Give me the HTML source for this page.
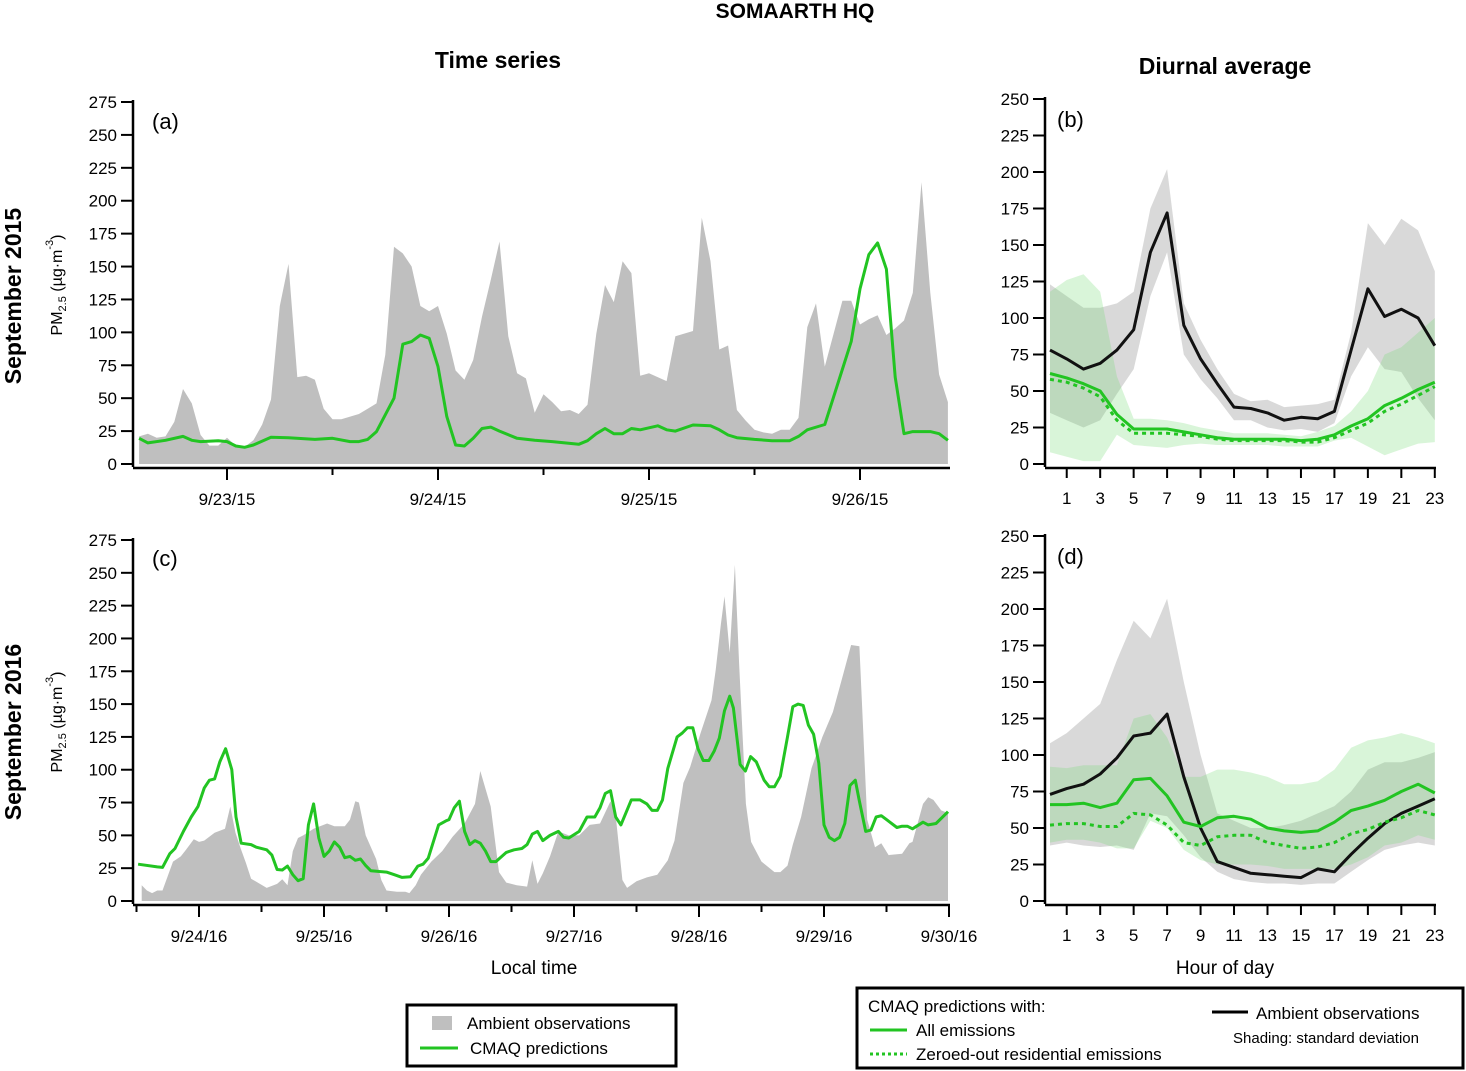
<!DOCTYPE html>
<html><head><meta charset="utf-8"><style>
body{margin:0;background:#fff;}
svg{display:block;font-family:"Liberation Sans",sans-serif;}
</style></head><body>
<svg id="chart" width="1466" height="1071" viewBox="0 0 1466 1071" xmlns="http://www.w3.org/2000/svg">
<text x="795" y="18" text-anchor="middle" font-size="21" font-weight="bold">SOMAARTH HQ</text>
<text x="498" y="68" text-anchor="middle" font-size="23" font-weight="bold">Time series</text>
<text x="1225" y="74" text-anchor="middle" font-size="23" font-weight="bold">Diurnal average</text>
<text transform="translate(21,296) rotate(-90)" text-anchor="middle" font-size="23" font-weight="bold">September 2015</text>
<text transform="translate(21,732) rotate(-90)" text-anchor="middle" font-size="23" font-weight="bold">September 2016</text>
<text transform="translate(62,285) rotate(-90)" text-anchor="middle" font-size="16">PM<tspan font-size="11" dy="4">2.5</tspan><tspan dy="-4"> (µg·m</tspan><tspan font-size="11" dy="-9">-3</tspan><tspan dy="9">)</tspan></text>
<text transform="translate(62,722) rotate(-90)" text-anchor="middle" font-size="16">PM<tspan font-size="11" dy="4">2.5</tspan><tspan dy="-4"> (µg·m</tspan><tspan font-size="11" dy="-9">-3</tspan><tspan dy="9">)</tspan></text>
<text x="534" y="974" text-anchor="middle" font-size="19">Local time</text>
<text x="1225" y="974" text-anchor="middle" font-size="19">Hour of day</text>
<g id="plots"></g>
<g>
<rect x="407" y="1005" width="269" height="61" fill="#fff" stroke="#000" stroke-width="3"/>
<rect x="432" y="1016" width="20" height="14" fill="#bfbfbf"/>
<text x="467" y="1029" font-size="17">Ambient observations</text>
<line x1="420" y1="1048" x2="458" y2="1048" stroke="#22c422" stroke-width="3"/>
<text x="470" y="1054" font-size="17">CMAQ predictions</text>
</g>
<g>
<rect x="857" y="988" width="606" height="80" fill="#fff" stroke="#000" stroke-width="3"/>
<text x="868" y="1012" font-size="17">CMAQ predictions with:</text>
<line x1="870" y1="1030" x2="907" y2="1030" stroke="#22c422" stroke-width="3"/>
<text x="916" y="1036" font-size="17">All emissions</text>
<line x1="870" y1="1054" x2="907" y2="1054" stroke="#22c422" stroke-width="3" stroke-dasharray="3,3"/>
<text x="916" y="1060" font-size="17">Zeroed-out residential emissions</text>
<line x1="1212" y1="1012" x2="1248" y2="1012" stroke="#000" stroke-width="3"/>
<text x="1256" y="1019" font-size="17">Ambient observations</text>
<text x="1233" y="1043" font-size="15">Shading: standard deviation</text>
</g>
</svg>
<script>
// Panel (a) Sep 2015 time series: hours since 9/22/15 00:00
const aObsHours=[14,15,16,17,18,19,20,21,22,23,24,25,26,27,28,29,30,31,32,33,34,35,36,37,39,40,41,42,43,44,45,46,47,48,49,50,51,52,53,54,55,56,57,58,59,60,61,62,63,64,65,66,67,68,69,70,71,72,74,75,77,78,79,80,81,82,83,84,85,86,87,88,89,90,91,92,93,94,95,96,97,98,99,100,101,102,103,104,105,106];
const aObsValues=[21,23,20,21,32,57,46,22,14,14,20,14,13,18,30,49,120,152,66,67,64,42,34,34,38,42,46,83,165,160,150,120,116,120,99,71,64,79,112,140,169,97,69,65,39,53,47,40,41,38,45,99,136,123,154,145,67,69,63,97,101,187,154,87,90,41,33,26,24,23,26,26,35,104,122,74,99,124,124,106,110,113,98,103,109,130,214,130,68,47];
const aModHours=[14,15,17,19,20,21,23,24,25,26,27,29,31,34,36,38,39,40,41,43,44,45,46,47,48,49,50,51,52,53,54,55,57,59,61,64,65,66,67,68,69,70,71,73,74,75,77,79,80,81,82,84,86,88,89,90,92,93,95,96,97,98,99,100,101,102,104,105,106];
const aModValues=[19.5,16,18,21,18,17,17.7,17,13.7,12.7,14.4,20.3,20,18.7,19.5,17,17,18.7,24.6,50,91,93,98,95.5,74,36,14.4,13.7,19.5,27,28,25,19.5,18,17,15,17.7,23,27,23,23,27,26,29,26,25,29.6,29,26,22,20,18.7,17.7,17.7,21,26,30,51,93,133,159,168,148,66,23,24.6,24.6,23,18];
const aDayLabels=["9/23/15","9/24/15","9/25/15","9/26/15"];
// Panel (c) Sep 2016 time series: hours since 9/24/16 00:00
const cObsHours=[-11,-10,-9,-8,-7,-5,-3.5,-2.5,-1,0,1,3,5,6,7,8,9,10,13,15,16,17,18,19,20,22,24.6,26,28,29,30,30.7,32,34,35,36,38,39.6,40.4,41.6,42.6,44.6,46.7,48.7,51,53,54,56,57.6,59,61,63,64,65,66,67.4,69,71,73,75,77,79,80,81.3,82.2,84,86,88,90,91.3,93,94.3,96.3,98.4,99.2,100.2,100.9,101.9,102.9,103.7,105,106,108,110.5,111.6,113,114,115.6,117.6,119.7,121.7,123.7,125.2,126.8,128.3,129.8,131,132.4,135,136.4,137,139,140,141,142.5,143.8];
const cObsValues=[12,8,6,8,8,30,34,39,47,45,46,52,55,72,52,40,29,17,10,13,16.5,12,38,48,50,55,59,57,57,62,76,75,50,32,16,8,7,7,6,12,20,30,38,49,59,74,99,72,22,14,12,11,31,13,21,34,53,50,50,58,59,76,65,16,10,15,18,20,31,46,90,102,128,153,176,211,232,189,256,181,74,45,30,22,22,27,43,64,101,125,144,173,195,194,62,41,44,35,36,44,45,74,79,77,69,67];
const cModHours=[-11.7,-8,-7,-5.6,-4.6,-3,-1.5,-0.2,1,2,3,4,5.1,6.3,7.1,8.1,10,11,13,14,15,16,17,18,19,20,21,22,23,24,25,26,27,28,29,30,31,32,33,36,37.5,39,40.6,42,43,44,46,47.4,48,49,50,51,52,53,54,55,56,57,59,60.5,62,63,64,65,66,67.4,69,70,71,73,74.5,76,77,78,79,80,81,83,84.7,86,87,88,89,90,91.8,92.8,93.8,94.8,95.8,96.8,97.9,98.9,99.9,100.9,101.9,102.6,103.9,104.9,105.9,107,108.5,109.5,110.5,111.6,113,114,115,116,117,118,119,120,121,122,123,124,125,126,126.8,128,129,130,131,132,134,135,136,137,139,140,141.5,143.8];
const cModValues=[28,26,25.6,36,40,53,64,72,86,92,93,106,116,100,64,44,43,41,39,35,24,23.6,26.6,20,15.5,17,58,74,48,34,38,45,41,33,34,31,32,27,23,22,20,18,18.5,26.6,28,32.5,58,61,62,71,76,53,43,46,44,38,30,30,37,39,40,43,51,53,46,50,53,48.5,48,53,64,64,71,82,84,64,58,77,77,74,69,69,77,101,125,128,132,132,116,107,107,114,124,145,156,147,104,99,110,106,92,87,87,95,125,148,150,149,134,127,105,58,48.5,46,48.5,59,88,92,76,53,54,64,65,62,56,57,57,55,60,58,59,68];
const cDayLabels=["9/24/16","9/25/16","9/26/16","9/27/16","9/28/16","9/29/16","9/30/16"];
// Diurnal (b) 2015, hours 0..23
const hourTicks=[1,3,5,7,9,11,13,15,17,19,21,23];
const bObsMean=[78,72,65,69,78,92,145,172,95,72,55,39,38,35,30,32,31,36,78,120,101,106,100,81];
const bObsUpper=[123,115,107,107,110,118,175,202,110,85,65,48,43,44,39,40,41,44,90,165,150,168,160,132];
const bObsLower=[35,30,25,30,48,65,115,145,75,58,45,30,30,25,23,24,22,28,60,80,65,63,45,30];
const bModMean=[62,59,55,50,34,24,24,24,22,20,18,17,17,17,17,16,17,20,26,31,40,45,51,56];
const bModZero=[58,56,52,46,30,21,21,21,20,19,17,16,16,16,16,15,15,18,23,28,36,41,47,53];
const bModUpper=[118,126,130,118,60,31,31,30,28,25,23,21,21,21,20,19,22,26,36,50,75,80,90,100];
const bModLower=[8,5,2,2,20,13,12,11,13,14,13,13,13,13,12,12,12,16,18,12,6,10,14,15];
// Diurnal (d) 2016
const dObsMean=[73,77,80,87,98,113,115,128,85,50,27,23,19,18,17,16,22,20,32,43,53,60,65,70];
const dObsUpper=[108,115,125,135,165,192,180,207,150,100,60,55,50,50,52,55,60,65,75,90,95,95,98,102];
const dObsLower=[38,40,38,37,38,35,60,58,45,30,20,15,13,12,12,11,12,12,20,28,35,38,40,38];
const dModMean=[66,66,67,64,67,83,84,72,54,51,57,58,56,50,48,47,48,54,62,65,69,75,80,74];
const dModZero=[52,53,53,51,51,60,59,52,40,38,44,45,45,40,38,36,37,40,46,49,54,57,62,59];
const dModUpper=[92,91,93,93,93,125,128,112,85,85,90,90,88,85,80,80,82,90,105,110,112,115,112,108];
const dModLower=[40,42,42,40,36,36,55,50,35,28,25,25,25,24,22,22,22,22,25,30,38,40,45,42];

const NS="http://www.w3.org/2000/svg";
const root=document.getElementById('plots');
function mk(tag,attrs,parent){const e=document.createElementNS(NS,tag);for(const k in attrs)e.setAttribute(k,attrs[k]);(parent||root).appendChild(e);return e;}

function yAxis(g,ax,yMax,step,x){
  mk('line',{x1:x,y1:ax.y(yMax)-2,x2:x,y2:ax.y0+3,stroke:'#000','stroke-width':2.5},g);
  for(let v=0;v<=yMax;v+=step){
    const t=mk('line',{x1:x-12,x2:x,y1:ax.y(v),y2:ax.y(v),stroke:'#000','stroke-width':2},g);
    
    
    const l=mk('text',{x:x-16,y:ax.y(v)+6,'text-anchor':'end','font-size':17},g);
    l.textContent=v;
    
    
  }
}
function poly(pts){return pts.map(p=>p[0].toFixed(1)+','+p[1].toFixed(1)).join(' ');}

function timePanel(name,letter,top,x0px,dayPx,hStart,hEnd,firstLabelDay,labels,obsH,obsV,modH,modV){
  const g=mk('g',{});
  
  
  const y0=top.y0, k=top.k;
  const ax={y0:y0,y:v=>y0-v*k,x:h=>x0px+h*dayPx/24};
  const pts=[[ax.x(obsH[0]),ax.y(0)]];
  obsH.forEach((h,i)=>pts.push([ax.x(h),ax.y(obsV[i])]));
  pts.push([ax.x(obsH[obsH.length-1]),ax.y(0)]);
  const f=mk('polygon',{points:poly(pts),fill:'#bfbfbf'},g);
  
  
  const ln=mk('polyline',{points:poly(modH.map((h,i)=>[ax.x(h),ax.y(modV[i])])),fill:'none',stroke:'#22c422','stroke-width':3,'stroke-linejoin':'round'},g);
  
  
  yAxis(g,ax,275,25,top.ax);
  const xa=top.y0+4;
  mk('line',{x1:top.ax,x2:950,y1:xa,y2:xa,stroke:'#000','stroke-width':2.5},g);
  for(let h=Math.ceil(hStart/12)*12;h<=hEnd;h+=12){
    const big=h%24===0;
    mk('line',{x1:ax.x(h),x2:ax.x(h),y1:xa,y2:xa+(big?12:7),stroke:'#000','stroke-width':2},g);
  }
  labels.forEach((s,i)=>{
    const t=mk('text',{x:ax.x(24*(i+firstLabelDay)),y:xa+37,'text-anchor':'middle','font-size':17},g);
    t.textContent=s;
    
    
  });
  const pl=mk('text',{x:top.ax+19,y:top.y0-335,'font-size':22},g);
  pl.textContent='('+letter+')';
  
  
}
timePanel('panel-a-time-series-2015','a',{y0:464,k:362/275,ax:133},16,211,14,106,1,aDayLabels,aObsHours,aObsValues,aModHours,aModValues);
timePanel('panel-c-time-series-2016','c',{y0:901,k:361/275,ax:133},199,125,-12,144,0,cDayLabels,cObsHours,cObsValues,cModHours,cModValues);

function diurnalPanel(name,letter,y0,obsM,obsU,obsL,modM,modZ,modU,modL){
  const g=mk('g',{});
  
  
  const k=1.46, axX=1045;
  const ax={y0:y0,y:v=>y0-v*k,x:h=>1050+h*16.73};
  const band=(U,L,fill,nm)=>{
    const pts=U.map((v,i)=>[ax.x(i),ax.y(v)]).concat(L.map((v,i)=>[ax.x(i),ax.y(v)]).reverse());
    const p=mk('polygon',{points:poly(pts),fill:fill},g);
    
    
  };
  band(obsU,obsL,'rgba(170,170,170,0.45)','obs-std-band');
  band(modU,modL,'rgba(120,220,120,0.28)','cmaq-std-band');
  const line=(arr,col,dash,nm)=>{
    const a={points:poly(arr.map((v,i)=>[ax.x(i),ax.y(v)])),fill:'none',stroke:col,'stroke-width':3,'stroke-linejoin':'round'};
    if(dash)a['stroke-dasharray']=dash;
    const p=mk('polyline',a,g);
    
    
  };
  line(obsM,'#111',null,'obs-mean-line');
  line(modM,'#22c422',null,'cmaq-all-line');
  line(modZ,'#22c422','4,4','cmaq-zeroed-line');
  yAxis(g,ax,250,25,axX);
  const xa=y0+4;
  mk('line',{x1:axX,x2:1436,y1:xa,y2:xa,stroke:'#000','stroke-width':2.5},g);
  hourTicks.forEach(h=>{
    mk('line',{x1:ax.x(h),x2:ax.x(h),y1:xa,y2:xa+10,stroke:'#000','stroke-width':2},g);
    const t=mk('text',{x:ax.x(h),y:xa+36,'text-anchor':'middle','font-size':17},g);
    t.textContent=h;
    
    
  });
  const pl=mk('text',{x:1057,y:ax.y(250)+28,'font-size':22},g);
  pl.textContent='('+letter+')';
  
  
}
diurnalPanel('panel-b-diurnal-2015','b',464,bObsMean,bObsUpper,bObsLower,bModMean,bModZero,bModUpper,bModLower);
diurnalPanel('panel-d-diurnal-2016','d',901,dObsMean,dObsUpper,dObsLower,dModMean,dModZero,dModUpper,dModLower);
</script>
</body></html>
